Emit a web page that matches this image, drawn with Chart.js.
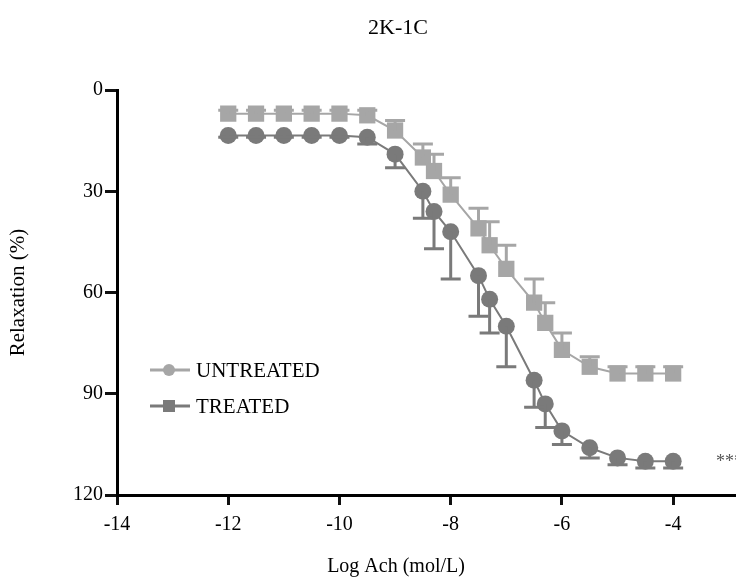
<!DOCTYPE html>
<html>
<head>
<meta charset="utf-8">
<title>2K-1C</title>
<script src="https://cdn.jsdelivr.net/npm/chart.js@4.4.1/dist/chart.umd.min.js"></script>
<style>
  html, body { margin: 0; padding: 0; background: #fff; }
  #wrap { width: 736px; height: 579px; position: relative; }
</style>
</head>
<body>
<div id="wrap"><canvas id="chart"></canvas></div>
<script>
// log [Ach] (mol/L)
const logAch = [-12, -11.5, -11, -10.5, -10, -9.5, -9, -8.5, -8.3, -8, -7.5, -7.3, -7, -6.5, -6.3, -6, -5.5, -5, -4.5, -4];

// relaxation (%), mean and one-sided SEM
const untreated    = [7, 7, 7, 7, 7, 7.5, 12, 20, 24, 31, 41, 46, 53, 63, 69, 77, 82, 84, 84, 84];
const untreatedErr = [1, 1, 1, 1, 1, 1.5, 3, 4, 5, 5, 6, 7, 7, 7, 6, 5, 3, 2, 2, 2];
const treated      = [13.5, 13.5, 13.5, 13.5, 13.5, 14, 19, 30, 36, 42, 55, 62, 70, 86, 93, 101, 106, 109, 110, 110];
const treatedErr   = [0.5, 0.5, 0.5, 0.5, 0.5, 2, 4, 8, 11, 14, 12, 10, 12, 8, 7, 4, 3, 2, 2, 2];

const xTickValues = [-14, -12, -10, -8, -6, -4];
const yTickValues = [0, 30, 60, 90, 120];

const chartTitle = '2K-1C';
const xTitle = 'Log Ach (mol/L)';
const yTitle = 'Relaxation (%)';
const significance = '***';

const lightGray = '#a6a6a6';
const darkGray = '#7a7a7a';
const serif = "'Liberation Serif', 'Times New Roman', serif";

// error bars: untreated drawn upward, treated drawn downward
const errorBars = {
  id: 'errorBars',
  afterDatasetDraw(chart, args) {
    const ds = chart.data.datasets[args.index];
    if (!ds.errors) return;
    const ctx = chart.ctx;
    const xs = chart.scales.x, ys = chart.scales.y;
    ctx.save();
    ctx.strokeStyle = ds.borderColor;
    ctx.lineWidth = 3;
    ds.data.forEach((p, i) => {
      const px = xs.getPixelForValue(p.x);
      const py = ys.getPixelForValue(p.y);
      const pe = ys.getPixelForValue(p.y + ds.errDir * ds.errors[i]);
      ctx.beginPath();
      ctx.moveTo(px, py);
      ctx.lineTo(px, pe);
      ctx.moveTo(px - 10, pe);
      ctx.lineTo(px + 10, pe);
      ctx.stroke();
    });
    ctx.restore();
  }
};

// title, x title, legend and significance mark
const annotations = {
  id: 'annotations',
  afterDraw(chart) {
    const ctx = chart.ctx;
    ctx.save();
    ctx.fillStyle = '#000';
    ctx.textAlign = 'center';
    ctx.textBaseline = 'middle';
    ctx.font = '22px ' + serif;
    ctx.fillText(chartTitle, 398, 28);
    ctx.font = '20px ' + serif;
    ctx.fillText(xTitle, 396, 567);

    // legend
    ctx.font = '21px ' + serif;
    const items = [chart.data.datasets[0], chart.data.datasets[1]];
    items.forEach((ds, i) => {
      const y = 370 + i * 36;
      ctx.strokeStyle = ds.borderColor;
      ctx.fillStyle = ds.borderColor;
      ctx.lineWidth = 3;
      ctx.beginPath();
      ctx.moveTo(150, y);
      ctx.lineTo(190, y);
      ctx.stroke();
      if (ds.legendMarker === 'circle') {
        ctx.beginPath();
        ctx.arc(169, y, 6, 0, Math.PI * 2);
        ctx.fill();
      } else {
        ctx.fillRect(163, y - 6, 12, 12);
      }
      ctx.fillStyle = '#000';
      ctx.textAlign = 'left';
      ctx.fillText(ds.label, 196, y + 1);
    });

    ctx.fillStyle = '#555';
    ctx.font = '18px ' + serif;
    ctx.textAlign = 'left';
    ctx.fillText(significance, 716, 462);
    ctx.restore();
  }
};

const ctx = document.getElementById('chart');
new Chart(ctx, {
  type: 'line',
  data: {
    datasets: [
      {
        label: 'UNTREATED',
        data: logAch.map((x, i) => ({ x: x, y: untreated[i] })),
        errors: untreatedErr,
        errDir: -1,
        legendMarker: 'circle',
        borderColor: lightGray,
        backgroundColor: lightGray,
        borderWidth: 2,
        pointStyle: 'rect',
        pointRadius: 11.5,
        pointBorderWidth: 0,
        tension: 0,
        order: 2
      },
      {
        label: 'TREATED',
        data: logAch.map((x, i) => ({ x: x, y: treated[i] })),
        errors: treatedErr,
        errDir: 1,
        legendMarker: 'rect',
        borderColor: darkGray,
        backgroundColor: darkGray,
        borderWidth: 2,
        pointStyle: 'circle',
        pointRadius: 8.5,
        pointBorderWidth: 0,
        tension: 0,
        order: 1
      }
    ]
  },
  options: {
    responsive: true,
    maintainAspectRatio: false,
    animation: false,
    layout: { autoPadding: false, padding: { top: 90, right: 0, bottom: 0, left: 0 } },
    plugins: {
      legend: { display: false },
      title: { display: false },
      tooltip: { enabled: false }
    },
    scales: {
      x: {
        type: 'linear',
        min: -14,
        max: -2.87,
        afterBuildTicks: scale => { scale.ticks = xTickValues.map(v => ({ value: v })); },
        afterFit: scale => { scale.height = 84; scale.paddingRight = 0; scale.paddingLeft = 0; },
        border: { display: true, color: '#000', width: 3 },
        grid: { drawOnChartArea: false, drawTicks: true, tickLength: 10, tickWidth: 3, tickColor: '#111' },
        ticks: { color: '#000', font: { family: serif, size: 20 }, padding: 8, maxRotation: 0 }
      },
      y: {
        type: 'linear',
        reverse: true,
        min: 0,
        max: 120,
        afterBuildTicks: scale => { scale.ticks = yTickValues.map(v => ({ value: v })); },
        afterFit: scale => { scale.width = 117; },
        border: { display: true, color: '#000', width: 3 },
        grid: { drawOnChartArea: false, drawTicks: true, tickLength: 12, tickWidth: 3, tickColor: '#111' },
        ticks: { color: '#000', font: { family: serif, size: 20 }, padding: 2 },
        title: {
          display: true,
          text: yTitle,
          color: '#000',
          font: { family: serif, size: 21 },
          padding: { top: 6, bottom: 0 }
        }
      }
    }
  },
  plugins: [errorBars, annotations]
});
</script>
</body>
</html>
